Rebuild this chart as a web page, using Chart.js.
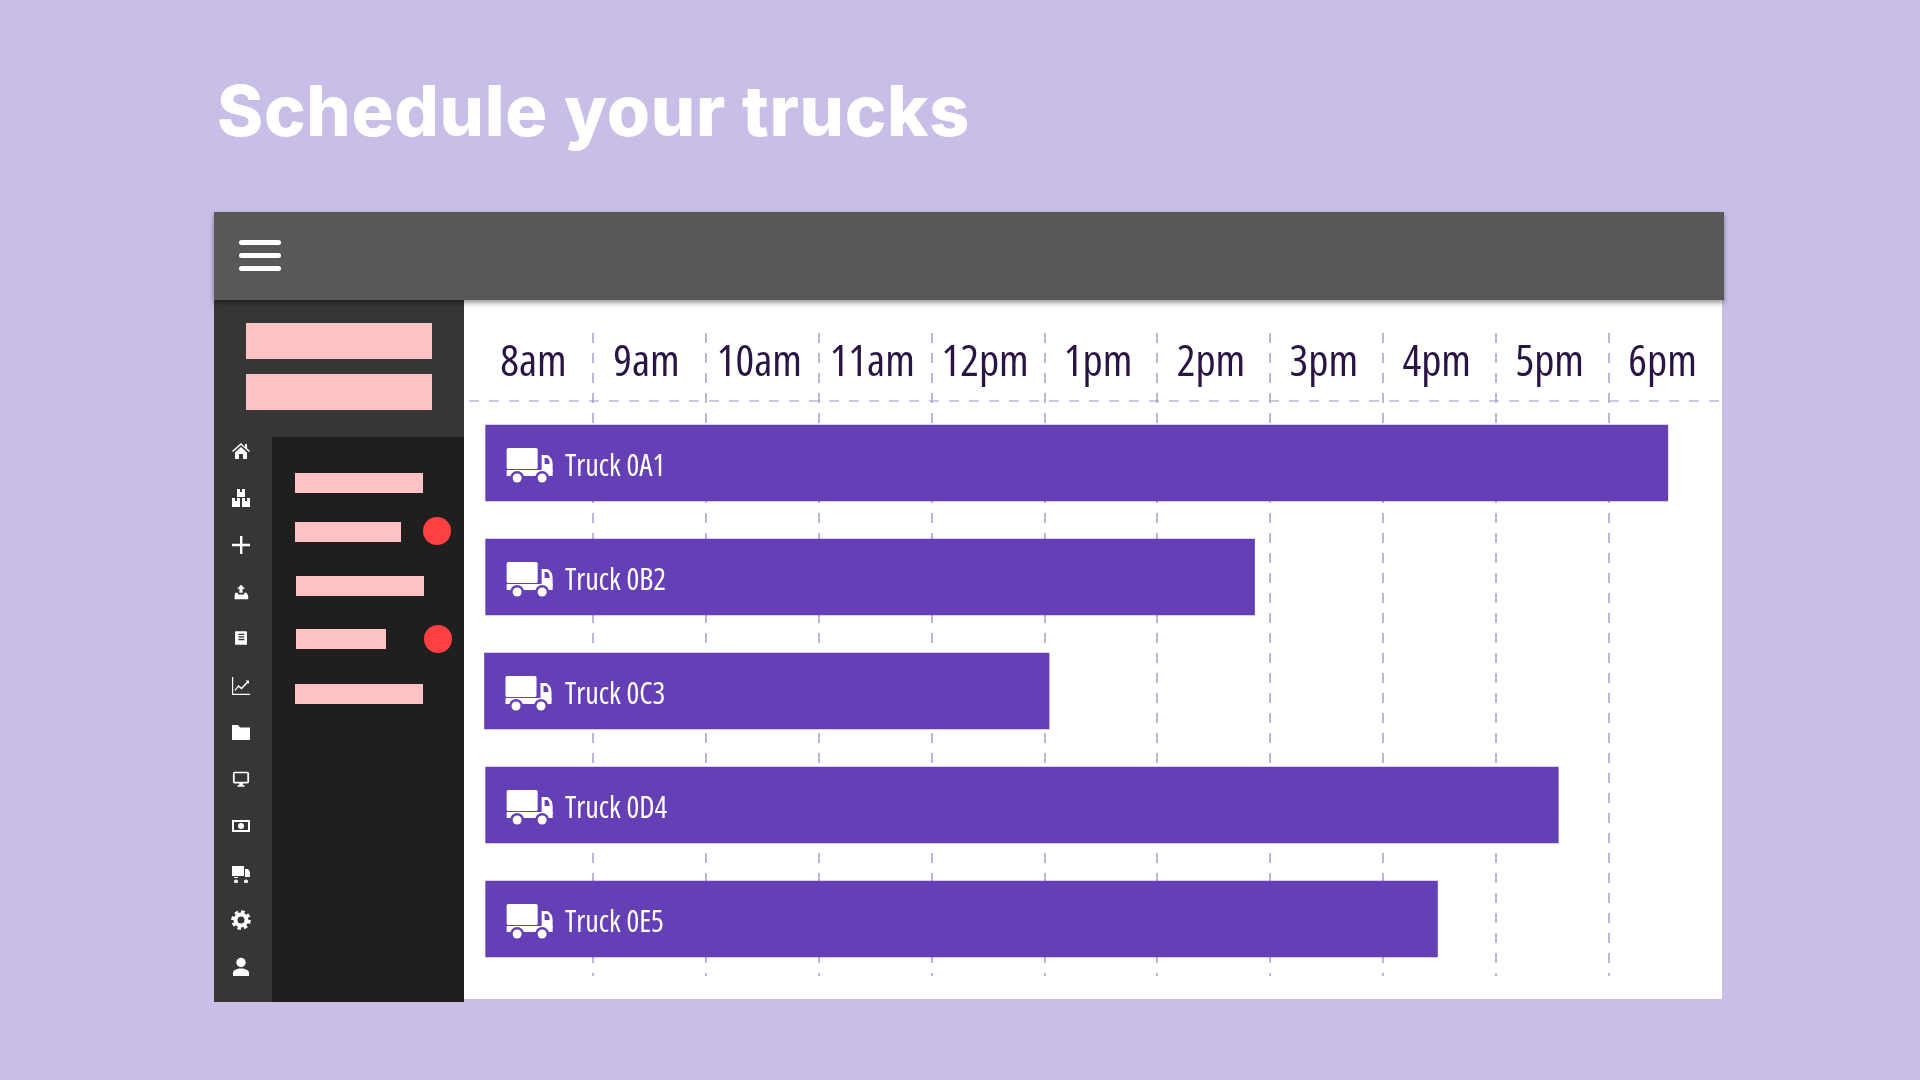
<!DOCTYPE html>
<html>
<head>
<meta charset="utf-8">
<title>Schedule your trucks</title>
<script src="https://cdn.jsdelivr.net/npm/chart.js@4"></script>
<style>
body { margin: 0; width: 1920px; height: 1080px; background: #c9bee8; overflow: hidden; position: relative; font-family: Inter, sans-serif; }
h1 { position: absolute; left: 217px; top: 69px; margin: 0; color: #fff; font: 800 70px/84px Inter, sans-serif; letter-spacing: .7px; white-space: nowrap; }
.box { position: absolute; }
.pink { position: absolute; background: #ffc2c4; }
.dot { position: absolute; width: 28px; height: 28px; border-radius: 50%; background: #ff4040; }
.burger { position: absolute; left: 239px; width: 42px; height: 5px; border-radius: 3px; background: #fff; }
.ic { position: absolute; left: 231px; width: 20px; height: 20px; fill: #fff; }
#rule { position: absolute; left: 469px; top: 400px; width: 1250px; height: 2px;
  background: repeating-linear-gradient(90deg, #cfc7e2 0 10px, transparent 10px 20px); }
canvas { position: absolute; left: 464px; top: 300px; }
</style>
</head>
<body>
<h1>Schedule your trucks</h1>

<div class="box" style="left:464px;top:300px;width:1258px;height:699px;background:#fff"></div>
<div id="rule"></div>
<canvas id="scheduleChart" width="1258" height="699"></canvas>

<div class="box" style="left:214px;top:300px;width:250px;height:702px;background:#363636"></div>
<div class="box" style="left:272px;top:437px;width:192px;height:565px;background:#1f1f1f"></div>
<div class="box" style="left:214px;top:212px;width:1510px;height:88px;background:#585858;box-shadow:0 3px 5px rgba(0,0,0,.4)"></div>
<div class="burger" style="top:240px"></div>
<div class="burger" style="top:253px"></div>
<div class="burger" style="top:266px"></div>

<div class="pink" style="left:246px;top:323px;width:186px;height:36px"></div>
<div class="pink" style="left:246px;top:374px;width:186px;height:36px"></div>
<div class="pink" style="left:295px;top:473px;width:128px;height:20px"></div>
<div class="pink" style="left:295px;top:522px;width:106px;height:20px"></div>
<div class="pink" style="left:296px;top:576px;width:128px;height:20px"></div>
<div class="pink" style="left:296px;top:629px;width:90px;height:20px"></div>
<div class="pink" style="left:295px;top:684px;width:128px;height:20px"></div>
<div class="dot" style="left:423px;top:517px"></div>
<div class="dot" style="left:424px;top:625px"></div>

<!-- sidebar icons -->
<svg class="ic" style="top:441px" viewBox="0 0 20 20"><path d="M10 2 1 10l1 1 8-7 8 7 1-1-3-2.700V3h-2v2.900zM4 11.500 10 6l6 5.500V18h-4v-5H8v5H4z"/></svg>
<svg class="ic" style="top:488px" viewBox="0 0 20 20"><path d="M6 1h3v3h2V1h3v8H6zM1 10h3v3h2v-3h3v9H1zM11 10h3v3h2v-3h3v9h-8z"/></svg>
<svg class="ic" style="top:535px" viewBox="0 0 20 20"><path d="M9 1h2.400v7.800H19v2.400h-7.600V19H9v-7.800H1V8.800h8z"/></svg>
<svg class="ic" style="top:582px;transform:scale(.8)" viewBox="0 0 20 20"><path d="M10 1l5 5h-3v5H8V6H5zM3 11h3v2h8v-2h3l2 4v4H2v-4z"/></svg>
<svg class="ic" style="top:628px;transform:scale(.85)" viewBox="0 0 20 20"><path d="M4 2h12a1 1 0 0 1 1 1v15H4a1 1 0 0 1-1-1V3a1 1 0 0 1 1-1zM7 5v1.500h7V5zm0 3v1.500h7V8zm0 3v1.500h7V11z" fill-rule="evenodd"/></svg>
<svg class="ic" style="top:676px" viewBox="0 0 20 20"><path d="M1 1h1.200v16.800H19V19H1z"/><path d="m3.500 14 4-5 3 2.500L16 5.500l-1.500-1H18V8l-1-1.200-6.400 6.700-3-2.500-3.200 3.800z"/></svg>
<svg class="ic" style="top:722px" viewBox="0 0 20 20"><path d="M1 3h6l2 2.500h10V18H1z"/></svg>
<svg class="ic" style="top:769px;transform:scale(.9)" viewBox="0 0 20 20"><path fill-rule="evenodd" d="M3 2h14a2 2 0 0 1 2 2v9a2 2 0 0 1-2 2h-5v2h2v1.500H6V17h2v-2H3a2 2 0 0 1-2-2V4a2 2 0 0 1 2-2zm0 1.500V13h14V3.500z"/></svg>
<svg class="ic" style="top:816px" viewBox="0 0 20 20"><path fill-rule="evenodd" d="M1 4h18v12H1zm2 2v8h14V6zm7 1a3 3 0 1 1 0 6 3 3 0 0 1 0-6z"/></svg>
<svg class="ic" style="top:863px" viewBox="0 0 20 20"><path d="M1 3h12v10H1zM14 6h3l2 3v5H14zM3 14h4v1H3zM5 16.500a2 2 0 1 0 .01 0zM15 16.500a2 2 0 1 0 .01 0z"/></svg>
<svg class="ic" style="top:910px" viewBox="0 0 20 20"><circle cx="10" cy="10" r="5.500" fill="none" stroke="#fff" stroke-width="4"/><circle cx="10" cy="10" r="8.300" fill="none" stroke="#fff" stroke-width="3" stroke-dasharray="3.500 3"/></svg>
<svg class="ic" style="top:957px" viewBox="0 0 20 20"><circle cx="10" cy="5.500" r="4.700"/><path d="M2 19v-3c0-3 4-4.500 8-4.500s8 1.500 8 4.500v3z"/></svg>

<script>
var trucks = ['Truck 0A1', 'Truck 0B2', 'Truck 0C3', 'Truck 0D4', 'Truck 0E5'];
var hours = ['8am', '9am', '10am', '11am', '12pm', '1pm', '2pm', '3pm', '4pm', '5pm', '6pm'];
var shiftStart = [8.05, 8.05, 8.04, 8.05, 8.05];
var shiftEnd = [18.52, 14.86, 13.04, 17.55, 16.48];

var gridColor = 'rgba(160, 150, 200, 0.7)';

function edgeColor(ctx) {
    // no line on the outer edges of the time axis
    if (!ctx.tick) return gridColor;
    return (ctx.tick.value === 8 || ctx.tick.value === 19) ? 'transparent' : gridColor;
}

// Truck glyph in front of each bar label
var truckIcons = {
    id: 'truckIcons',
    afterDatasetsDraw: function(chart) {
        var c = chart.ctx;
        chart.getDatasetMeta(0).data.forEach(function(bar) {
            var x = bar.base + 21;
            var y = bar.y + 3;
            c.save();
            c.fillStyle = '#fff';
            c.beginPath();
            c.roundRect(x, y - 18, 31, 21, 1.5);
            c.rect(x, y + 4, 46, 6);
            c.fill();
            c.beginPath();
            c.moveTo(x + 35, y - 11);
            c.lineTo(x + 41, y - 11);
            c.quadraticCurveTo(x + 46, y - 8, x + 46, y - 2);
            c.lineTo(x + 46, y + 6);
            c.lineTo(x + 35, y + 6);
            c.closePath();
            c.fill();
            c.fillStyle = '#643fb6';
            c.beginPath();
            c.moveTo(x + 38, y - 8);
            c.lineTo(x + 41, y - 8);
            c.quadraticCurveTo(x + 43, y - 6, x + 43, y - 2);
            c.lineTo(x + 38, y - 2);
            c.closePath();
            c.fill();
            [10.5, 35.5].forEach(function(wx) {
                c.fillStyle = '#643fb6';
                c.beginPath();
                c.arc(x + wx, y + 12, 7, 0, Math.PI * 2);
                c.fill();
                c.fillStyle = '#fff';
                c.beginPath();
                c.arc(x + wx, y + 12, 4.5, 0, Math.PI * 2);
                c.fill();
            });
            c.restore();
        });
    }
};

var ctx = document.getElementById('scheduleChart').getContext('2d');
var scheduleChart = new Chart(ctx, {
    type: 'bar',
    plugins: [truckIcons],
    data: {
        labels: trucks,
        datasets: [{
            data: trucks.map(function(t, i) { return [shiftStart[i], shiftEnd[i]]; }),
            backgroundColor: '#643fb6',
            barThickness: 76
        }]
    },
    options: {
        indexAxis: 'y',
        responsive: false,
        animation: false,
        layout: { padding: { left: 16, bottom: 23, right: 0, top: 0 } },
        plugins: { legend: { display: false }, tooltip: { enabled: false } },
        scales: {
            x: {
                position: 'top',
                min: 8,
                max: 19,
                afterFit: function(scale) { scale.height = 106; },
                border: { display: false, dash: [10, 10], dashOffset: 13 },
                grid: {
                    color: edgeColor,
                    tickColor: edgeColor,
                    lineWidth: 2,
                    tickWidth: 2,
                    tickLength: 73,
                    tickBorderDash: [10, 10]
                },
                ticks: {
                    stepSize: 1,
                    autoSkip: false,
                    maxRotation: 0,
                    labelOffset: 53.5,
                    padding: -57,
                    color: '#2a1446',
                    // weight goes straight into the canvas font string, this gets the narrow Open Sans
                    font: { family: '"Open Sans"', size: 44, weight: 'condensed' },
                    callback: function(v) { return hours[v - 8] || ''; }
                }
            },
            y: {
                afterFit: function(scale) {
                    scale.width = 0;
                    scale.paddingTop = 0;
                    scale.paddingBottom = 0;
                },
                border: { display: false },
                grid: { display: false },
                ticks: {
                    mirror: true,
                    z: 1,
                    padding: 85,
                    labelOffset: 4,
                    color: '#fff',
                    font: { family: '"Open Sans"', size: 30, weight: 'condensed' }
                }
            }
        }
    }
});
</script>
</body>
</html>
